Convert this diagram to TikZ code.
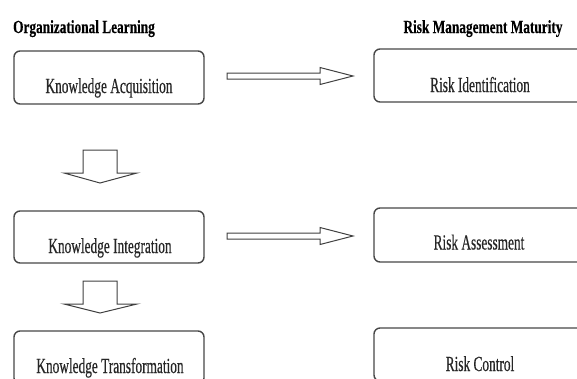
\documentclass[tikz,border=0pt]{standalone}
\usepackage{fontspec}
\setmainfont{Liberation Serif}
\newfontfamily\condfont[FakeStretch=0.62,FakeBold=0.4]{Liberation Serif}
\newfontfamily\condbold[FakeStretch=0.72,FakeBold=0.3]{Liberation Serif Bold}
\begin{document}
\begin{tikzpicture}[x=1pt,y=-1pt,
  box/.style={draw=black!72, line width=1.4pt, rounded corners=6pt, fill=none, inner sep=0pt},
  lbl/.style={anchor=base, inner sep=0pt, font=\condfont\fontsize{21.5}{24}\selectfont, text=black!85},
  ttl/.style={anchor=base, inner sep=0pt, font=\condbold\fontsize{18.5}{22}\selectfont, text=black},
  blockarrow/.style={draw=black!75, line width=1pt, fill=white, line join=miter}]
\useasboundingbox (0,0) rectangle (577,378);
\clip (0,0) rectangle (577,378);
% titles
\node[ttl] (t1) at (84,33) {Organizational Learning};
\node[ttl] (t2) at (483,33) {Risk Management Maturity};
% left boxes
\node[box, minimum width=190pt, minimum height=53pt] (ka) at (109,77.5) {};
\node[box, minimum width=190pt, minimum height=52pt] (ki) at (109,237) {};
\node[box, minimum width=190pt, minimum height=53pt] (kt) at (109,357.5) {};
% right boxes
\node[box, minimum width=230pt, minimum height=53pt] (ri) at (489,75.5) {};
\node[box, minimum width=230pt, minimum height=54pt] (ra) at (489,235) {};
\node[box, minimum width=230pt, minimum height=53pt] (rc) at (489,354.5) {};
% labels
\node[lbl] (kal) at (109,93) {Knowledge Acquisition};
\node[lbl] (kil) at (110,253) {Knowledge Integration};
\node[lbl] (ktl) at (110,373) {Knowledge Transformation};
\node[lbl] (ril) at (480,92) {Risk Identification};
\node[lbl] (ral) at (479,249.5) {Risk Assessment};
\node[lbl] (rcl) at (480,371) {Risk Control};
% horizontal block arrows
\draw[blockarrow] (227,73) -- (320,73) -- (320,67.5) -- (353,76) -- (320,84.5) -- (320,79) -- (227,79) -- cycle;
\draw[blockarrow] (227,233) -- (320,233) -- (320,227.5) -- (353,236) -- (320,244.5) -- (320,239) -- (227,239) -- cycle;
% vertical block arrows
\draw[blockarrow] (83,150) -- (117,150) -- (117,173) -- (137,173) -- (100,183) -- (64,173) -- (83,173) -- cycle;
\draw[blockarrow] (83,281) -- (117,281) -- (117,304) -- (137,304) -- (100,313) -- (64,304) -- (83,304) -- cycle;
\end{tikzpicture}
\end{document}
